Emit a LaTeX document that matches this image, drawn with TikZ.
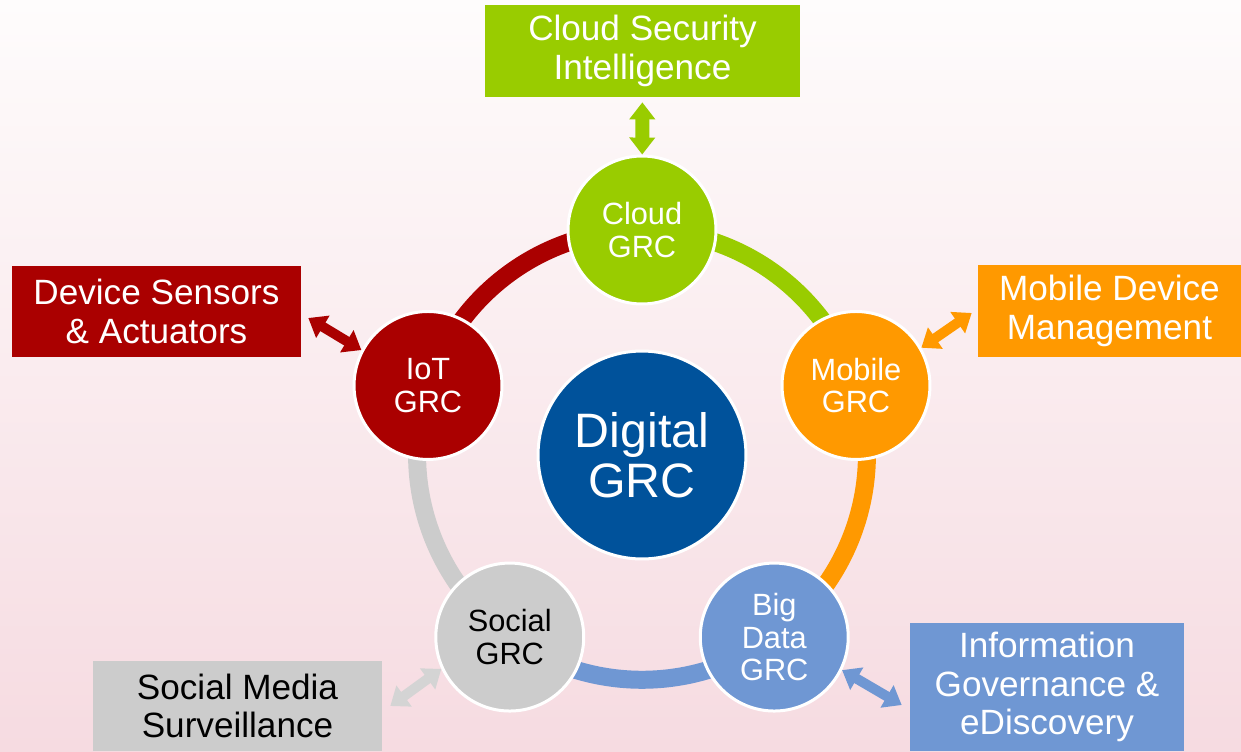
\documentclass[tikz,border=0pt]{standalone}
\usepackage{fontspec}
\setmainfont{Liberation Sans}
\usetikzlibrary{arrows.meta, backgrounds}

\definecolor{cloudgreen}{RGB}{153,204,0}
\definecolor{iotred}{RGB}{170,0,0}
\definecolor{mobileorange}{RGB}{255,153,0}
\definecolor{datablue}{RGB}{111,151,211}
\definecolor{socialgray}{RGB}{204,204,204}
\definecolor{digitalblue}{RGB}{0,82,155}
\definecolor{bgtop}{RGB}{254,252,252}
\definecolor{bgmid}{RGB}{250,236,239}
\definecolor{bgbottom}{RGB}{246,219,225}

\begin{document}
\begin{tikzpicture}[x=0.02cm, y=0.02cm]
        \tikzstyle{grc}=[circle, draw=white, line width=0.06cm, minimum size=2.96cm, inner sep=0pt, align=center, text=white, font=\fontsize{17.5}{18.5}\selectfont]
        \tikzstyle{area}=[rectangle, inner sep=0pt, align=center, text=white, font=\fontsize{20}{21.8}\selectfont]
        \tikzstyle{ring}=[line width=0.36cm]
        \tikzstyle{link}=[line width=0.2cm, {Triangle[width=0.5cm,length=0.34cm]}-{Triangle[width=0.5cm,length=0.34cm]}]

        % Background
        \begin{scope}[on background layer]
            \shade[top color=bgtop, middle color=bgmid, bottom color=bgbottom] (0,0) rectangle (1241,-751);
        \end{scope}

        % Centre circle
        \node[grc, fill=digitalblue, minimum size=4.16cm, font=\fontsize{27.5}{28.5}\selectfont] (digital) at (642,-455) {Digital\\GRC};

        % Draw the five GRC circles round it
        \node[grc, fill=cloudgreen] (cloud) at ([shift={(90:225)}]digital) {Cloud\\GRC};
        \node[grc, fill=mobileorange] (mobile) at ([shift={(18:225)}]digital) {Mobile\\GRC};
        \node[grc, fill=datablue] (bigdata) at ([shift={(-54:225)}]digital) {Big\\Data\\GRC};
        \node[grc, fill=socialgray, text=black] (social) at ([shift={(-126:225)}]digital) {Social\\GRC};
        \node[grc, fill=iotred] (iot) at ([shift={(162:225)}]digital) {IoT\\GRC};

        % Ring segments between the circles
        \begin{scope}[on background layer]
            \foreach \source/\dest/\col in {iot/cloud/iotred, cloud/mobile/cloudgreen, mobile/bigdata/mobileorange, bigdata/social/datablue, social/iot/socialgray}
                \draw[ring, \col] (\source.center) to[bend left=36, looseness=0.94] (\dest.center);
        \end{scope}

        % Outer areas
        \node[area, fill=cloudgreen, minimum width=6.3cm, minimum height=1.84cm] (cloudbox) at (642.5,-51) {Cloud Security\\Intelligence};
        \node[area, fill=iotred, minimum width=5.78cm, minimum height=1.82cm] (devicebox) at (156.5,-311.5) {Device Sensors\\\& Actuators};
        \node[area, fill=mobileorange, minimum width=5.26cm, minimum height=1.84cm] (mobilebox) at (1109.5,-311) {Mobile Device\\Management};
        \node[area, fill=datablue, minimum width=5.48cm, minimum height=2.56cm] (infobox) at (1047,-687) {Information\\Governance \&\\eDiscovery};
        \node[area, fill=socialgray, text=black, minimum width=5.78cm, minimum height=1.8cm] (socialbox) at (237.5,-706) {Social Media\\Surveillance};

        % Connect each circle with its area
        \draw[link, cloudgreen, line width=0.28cm, shorten <=0.1cm] (cloudbox) -- (cloud);
        \draw[link, iotred] ([xshift=0.14cm, yshift=-0.13cm]devicebox.east) -- (iot.152);
        \draw[link, mobileorange] (mobile.30) -- ([xshift=-0.12cm, yshift=-0.04cm]mobilebox.west);
        \draw[link, datablue] (bigdata.-26) -- ([xshift=-0.16cm, yshift=-0.36cm]infobox.west);
        \draw[link, socialgray!85!white] (social.205) -- ([xshift=0.16cm]socialbox.east);

    \end{tikzpicture}
\end{document}
